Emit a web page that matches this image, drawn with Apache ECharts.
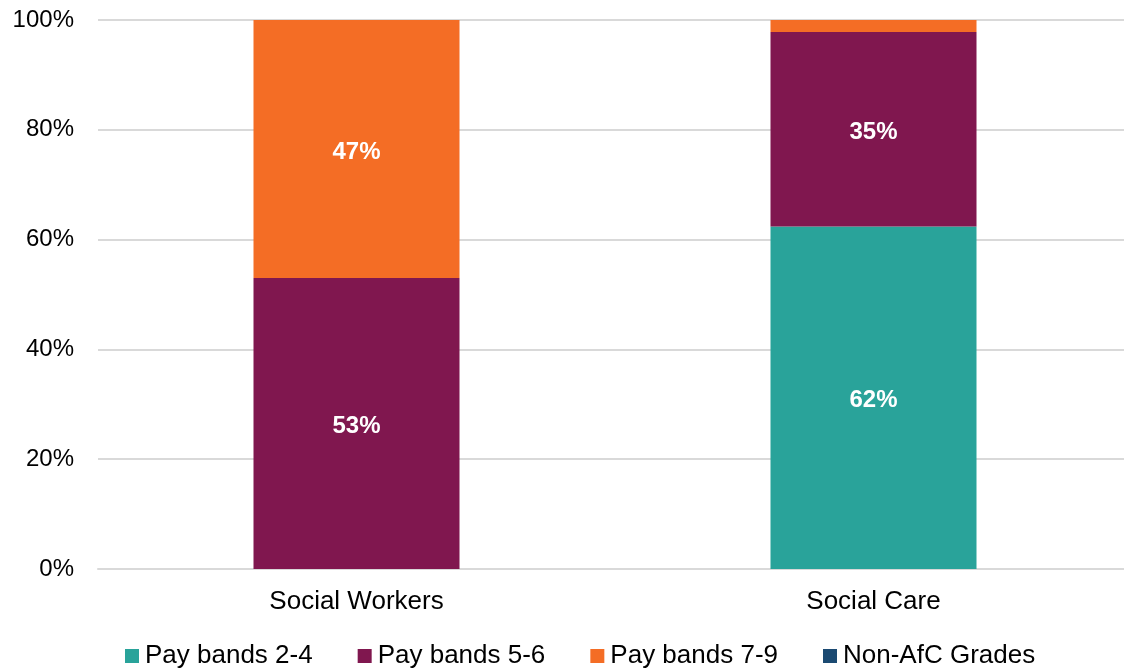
<!DOCTYPE html>
<html><head><meta charset="utf-8">
<script src="https://cdn.jsdelivr.net/npm/echarts@6/dist/echarts.min.js"></script>
<style>html,body{margin:0;padding:0;background:#fff;overflow:hidden}#c{width:1134px;height:671px}</style>
</head><body><div id="c"></div>
<script>
const categories = ['Social Workers', 'Social Care'];
const seriesNames = ['Pay bands 2-4', 'Pay bands 5-6', 'Pay bands 7-9', 'Non-AfC Grades'];
const payBands24 = [0, 62.4];
const payBands56 = [53.0, 35.4];
const payBands79 = [47.0, 2.2];
const nonAfC = [0, 0];
const yTicks = [0, 20, 40, 60, 80, 100];
const colors = ['#29A39A', '#80174F', '#F46D25', '#1B4A72'];
const values = [payBands24, payBands56, payBands79, nonAfC];
const FONT = 'Liberation Sans, Arial, sans-serif';

const chart = echarts.init(document.getElementById('c'), null, {renderer: 'canvas'});
chart.setOption({
  animation: false,
  color: colors,
  grid: {left: 98, right: 2, top: 20, height: 549, containLabel: false},
  legend: {
    top: 638, left: 120,
    itemWidth: 14, itemHeight: 14, itemGap: 45,
    icon: 'rect',
    textStyle: {fontFamily: FONT, fontSize: 26, color: '#000', padding: [0, 0, 0, 1]},
    data: seriesNames
  },
  xAxis: {
    type: 'category', data: categories,
    axisLine: {lineStyle: {color: '#d9d9d9', width: 2}},
    axisTick: {show: false},
    axisLabel: {fontFamily: FONT, fontSize: 26, color: '#000', margin: 20}
  },
  yAxis: {
    type: 'value', min: 0, max: 100, interval: 20,
    axisLine: {show: false}, axisTick: {show: false},
    splitLine: {lineStyle: {color: '#d9d9d9', width: 2}},
    axisLabel: {fontFamily: FONT, fontSize: 24, color: '#000', margin: 24, padding: [4, 0, 0, 0],
      formatter: v => yTicks.includes(v) ? v + '%' : ''}
  },
  series: seriesNames.map((n, i) => ({
    name: n, type: 'bar', stack: 'total', barWidth: 206,
    data: values[i],
    itemStyle: {color: colors[i]},
    label: {
      show: true, position: 'inside', offset: [0, 3], color: '#fff', fontWeight: 'bold',
      fontFamily: FONT, fontSize: 24,
      formatter: p => p.value >= 5 ? Math.round(p.value) + '%' : ''
    }
  }))
});
</script></body></html>
